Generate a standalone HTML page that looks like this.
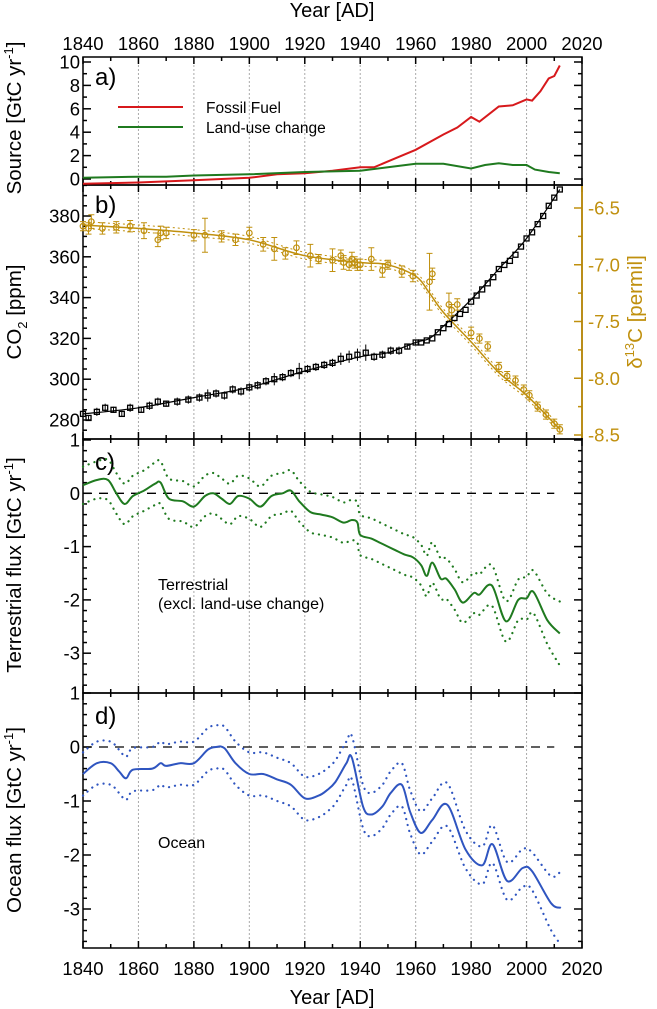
<!DOCTYPE html>
<html><head><meta charset="utf-8"><style>
html,body{margin:0;padding:0;background:#fff;}
svg{display:block;font-family:"Liberation Sans",sans-serif;}
</style></head><body>
<svg id="chart" width="657" height="1009" viewBox="0 0 657 1009" xmlns="http://www.w3.org/2000/svg"></svg>
<script>
// ---- data ----
const ffYears = [1840,1860,1880,1900,1910,1920,1930,1940,1945,1950,1960,1970,1975,1980,1983,1990,1995,2000,2002,2005,2008,2010,2012];
const ffValues = [-0.4,-0.3,-0.1,0.1,0.4,0.5,0.7,1.0,1.0,1.5,2.5,3.8,4.4,5.3,4.9,6.2,6.3,6.8,6.7,7.5,8.6,8.8,9.7];
const luYears = [1840,1860,1870,1880,1900,1920,1940,1950,1960,1970,1980,1985,1990,1995,2000,2003,2008,2012];
const luValues = [0.1,0.2,0.2,0.3,0.4,0.6,0.7,1.0,1.3,1.3,0.9,1.2,1.35,1.2,1.2,0.8,0.6,0.5];

const co2Years = [1840,1860,1880,1900,1920,1940,1950,1960,1965,1970,1980,1990,2000,2012];
const co2Values = [283,286,291,296,304,311,313,318,320,326,339,354,369,393];
const d13Years = [1840,1860,1880,1900,1920,1940,1950,1960,1965,1970,1980,1990,2000,2012];
const d13Values = [-6.65,-6.68,-6.72,-6.78,-6.92,-6.98,-7.0,-7.1,-7.25,-7.42,-7.68,-7.95,-8.15,-8.45];

const co2ObsYears = [1840,1842,1845,1848,1851,1854,1857,1861,1864,1867,1870,1874,1878,1882,1885,1888,1891,1894,1897,1900,1903,1906,1909,1912,1915,1918,1921,1924,1927,1930,1933,1936,1939,1942,1945,1948,1951,1954,1957,1960,1962,1964,1966,1968,1970,1972,1974,1976,1978,1980,1982,1984,1986,1988,1990,1992,1994,1996,1998,2000,2002,2004,2006,2008,2010,2012];
const co2ObsValues = [283,281,284,286,285,283,286,285,287,289,288,289,290,291,292,293,292,295,294,296,297,299,300,301,303,304,305,306,307,308,310,311,312,313,311,312,314,314,316,318,318,319,320,323,325,327,330,332,334,338,341,344,347,350,354,356,358,361,365,369,372,376,380,385,389,393];
const co2ObsErr = [1.5,1.5,2,2,1.5,1.5,2,1.5,2,2,1.5,2,2,2,3,2,2,2,2,2,2,2,3,2,2,4,2,2,2,2,3,3,3,4,2,2,2,2,1,1,0.5,0.5,0.5,0.5,0.5,0.5,0.5,0.5,0.5,0.5,0.5,0.5,0.5,0.5,0.5,0.5,0.5,0.5,0.5,0.5,0.5,0.5,0.5,0.5,0.5,0.5];

const d13ObsYears = [1840,1842,1843,1847,1852,1857,1862,1867,1868,1870,1880,1884,1890,1895,1900,1905,1909,1913,1917,1922,1925,1930,1933,1934,1936,1937,1938,1939,1940,1944,1948,1950,1955,1959,1965,1966,1972,1973,1975,1980,1983,1986,1990,1993,1996,1999,2001,2004,2007,2010,2012];
const d13ObsValues = [-6.66,-6.68,-6.62,-6.68,-6.67,-6.66,-6.7,-6.78,-6.72,-6.72,-6.74,-6.74,-6.75,-6.78,-6.72,-6.82,-6.86,-6.9,-6.85,-6.92,-6.95,-6.96,-6.92,-6.98,-7.0,-6.95,-6.98,-7.0,-7.0,-6.95,-7.05,-7.0,-7.06,-7.1,-7.15,-7.08,-7.35,-7.4,-7.35,-7.6,-7.65,-7.72,-7.9,-7.98,-8.02,-8.1,-8.15,-8.25,-8.32,-8.4,-8.45];
const d13ObsErr = [0.04,0.05,0.06,0.05,0.05,0.05,0.07,0.06,0.06,0.05,0.05,0.15,0.05,0.05,0.05,0.06,0.1,0.05,0.06,0.1,0.04,0.1,0.05,0.06,0.05,0.06,0.05,0.05,0.05,0.1,0.06,0.04,0.05,0.05,0.25,0.05,0.1,0.05,0.05,0.05,0.04,0.04,0.04,0.04,0.04,0.04,0.04,0.04,0.04,0.04,0.04];

const terYears = [1840,1845,1849,1852,1855,1858,1862,1866,1868,1871,1876,1880,1884,1887,1890,1893,1896,1900,1904,1908,1912,1915,1918,1922,1926,1930,1934,1937,1939,1940,1944,1948,1952,1956,1959,1962,1964,1966,1969,1971,1974,1977,1981,1983,1987.5,1992.5,1997,2000,2002.5,2007.5,2012];
const terValues = [0.15,0.25,0.25,0.0,-0.2,-0.05,0.05,0.18,0.2,-0.1,-0.15,-0.25,-0.05,0.0,-0.1,-0.2,-0.05,-0.1,-0.25,-0.05,0.0,0.05,-0.15,-0.35,-0.4,-0.45,-0.55,-0.5,-0.55,-0.78,-0.85,-0.95,-1.05,-1.15,-1.2,-1.35,-1.55,-1.3,-1.6,-1.6,-1.8,-2.05,-1.87,-1.9,-1.73,-2.4,-2.0,-1.97,-1.85,-2.38,-2.63];
const terErrUp = [0.35,0.35,0.38,0.38,0.38,0.38,0.38,0.4,0.4,0.38,0.38,0.38,0.38,0.38,0.38,0.38,0.38,0.38,0.38,0.38,0.38,0.38,0.38,0.38,0.38,0.38,0.38,0.38,0.38,0.38,0.38,0.38,0.38,0.38,0.38,0.38,0.38,0.38,0.38,0.38,0.38,0.38,0.38,0.38,0.38,0.38,0.38,0.4,0.4,0.5,0.6];
const terErrLo = [0.35,0.35,0.38,0.38,0.38,0.38,0.38,0.4,0.4,0.38,0.38,0.38,0.38,0.38,0.38,0.38,0.38,0.38,0.38,0.38,0.38,0.38,0.38,0.38,0.38,0.38,0.38,0.38,0.38,0.38,0.38,0.38,0.38,0.38,0.38,0.38,0.38,0.38,0.38,0.38,0.38,0.38,0.38,0.38,0.38,0.38,0.38,0.4,0.4,0.45,0.6];

const ocnYears = [1840,1845,1850,1853,1855.5,1858,1865,1868,1870,1875,1880,1885,1888,1891,1895,1900,1905,1910,1915,1920,1925,1928,1931,1935,1937,1941,1944,1948,1951,1955,1958,1961.8,1966,1971.4,1978,1984,1987.7,1993,1998.6,2002,2008.8,2012.4];
const ocnValues = [-0.5,-0.3,-0.3,-0.45,-0.58,-0.42,-0.4,-0.3,-0.35,-0.3,-0.3,-0.05,0.0,-0.02,-0.3,-0.5,-0.5,-0.6,-0.7,-0.95,-0.9,-0.8,-0.65,-0.3,-0.2,-1.1,-1.25,-1.1,-0.85,-0.7,-1.2,-1.59,-1.35,-1.07,-1.9,-2.19,-1.8,-2.48,-2.24,-2.3,-2.89,-2.98];
const ocnErr = [0.4,0.4,0.4,0.4,0.4,0.4,0.4,0.4,0.4,0.4,0.4,0.4,0.4,0.4,0.4,0.4,0.4,0.4,0.4,0.4,0.4,0.4,0.4,0.4,0.4,0.4,0.4,0.4,0.4,0.4,0.4,0.4,0.4,0.4,0.35,0.35,0.35,0.35,0.35,0.35,0.5,0.68];

const xTicks = [1840,1860,1880,1900,1920,1940,1960,1980,2000,2020];
const aTicks = [0,2,4,6,8,10];
const bTicks = [280,300,320,340,360,380];
const dTicks = [-6.5,-7.0,-7.5,-8.0,-8.5];
const cTicks = [1,0,-1,-2,-3];

// ---- layout ----
const SVGNS = "http://www.w3.org/2000/svg";
const svg = document.getElementById('chart');
const L = 83, R = 582;
const X = y => L + (y - 1840) * (R - L) / 180;
const pa = {top:57, bot:185, y:v => 179 - v*11.7};
const pb = {top:185, bot:439, y:v => 420 - (v-280)*2.04, y2:v => 208 - (v+6.5)*113.5};
const pc = {top:439, bot:693, y:v => 493.3 - v*53.3};
const pd = {top:693, bot:948, y:v => 747 - v*54};
const GOLD = "#c0900e";
const TF = 18.5;

function mk(tag, attrs, parent){
  const e = document.createElementNS(SVGNS, tag);
  for (const k in attrs) e.setAttribute(k, attrs[k]);
  (parent||svg).appendChild(e);
  return e;
}
function txt(s, attrs){ const t = mk('text', attrs); t.textContent = s; return t; }
function pathFrom(xs, ys){ return xs.map((v,i)=>(i?'L':'M')+X(v).toFixed(1)+','+ys[i].toFixed(1)).join(''); }
function smoothFrom(xs, ys){
  const p = xs.map((v,i)=>[X(v), ys[i]]);
  let d = 'M'+p[0][0].toFixed(1)+','+p[0][1].toFixed(1);
  for (let i=0;i<p.length-1;i++){
    const p0=p[Math.max(0,i-1)], p1=p[i], p2=p[i+1], p3=p[Math.min(p.length-1,i+2)];
    const c1=[p1[0]+(p2[0]-p0[0])/6, p1[1]+(p2[1]-p0[1])/6];
    const c2=[p2[0]-(p3[0]-p1[0])/6, p2[1]-(p3[1]-p1[1])/6];
    d += 'C'+c1.map(v=>v.toFixed(1)).join(',')+' '+c2.map(v=>v.toFixed(1)).join(',')+' '+p2.map(v=>v.toFixed(1)).join(',');
  }
  return d;
}

// gridlines
[pa,pb,pc,pd].forEach(p=>{
  for (let yr=1860; yr<=2000; yr+=20){
    const g = mk('line',{x1:X(yr),x2:X(yr),y1:p.top,y2:p.bot,stroke:'#aaa','stroke-width':1,'stroke-dasharray':'2,2'});
    
    
  }
});
[pa,pb,pc,pd].forEach(p=>{
  for (let yr=1840; yr<=2020; yr+=10){
    const len = yr%20===0 ? 7 : 4;
    [p.top,p.bot].forEach((yy,j)=>{
      const t = mk('line',{x1:X(yr),x2:X(yr),y1:yy,y2:j===0?yy+len:yy-len,stroke:'#000','stroke-width':1.5});
      
      
    });
  }
});
function yTicks(p, vals, fy, minorStep, lo, hi, rightToo){
  for (let v=lo; v<=hi+1e-9; v+=minorStep){
    const yy = fy(v); if (yy<p.top-0.5||yy>p.bot+0.5) continue;
    const major = vals.some(m=>Math.abs(m-v)<1e-6);
    const len = major?8:4;
    const t = mk('line',{x1:L,x2:L+len,y1:yy,y2:yy,stroke:'#000','stroke-width':1.5});
    
    
    if (rightToo){
      const t2 = mk('line',{x1:R,x2:R-len,y1:yy,y2:yy,stroke:'#000','stroke-width':1.5});
      
      
    }
  }
  vals.forEach(v=>{
    const lab = txt(String(v),{x:L-3,y:fy(v)+6.5,'text-anchor':'end','font-size':TF});
    
    
  });
}
yTicks(pa, aTicks, pa.y, 1, 0, 10, true);
yTicks(pb, bTicks, pb.y, 5, 270, 395, false);
yTicks(pc, cTicks, pc.y, 0.2, -3.8, 1, true);
yTicks(pd, cTicks, pd.y, 0.2, -3.8, 1, true);
for (let v=-6.25; v>=-8.76; v-=0.25){
  const yy = pb.y2(v); if (yy<pb.top||yy>pb.bot) continue;
  const t = mk('line',{x1:R,x2:R-(Math.abs((v*2)%1)<1e-6?8:4),y1:yy,y2:yy,stroke:GOLD,'stroke-width':1.5});
  
  
}
dTicks.forEach(v=>{
  const lab = txt(v.toFixed(1),{x:R+6,y:pb.y2(v)+6.5,'font-size':TF,fill:GOLD});
  
  
});
[pa,pb,pc,pd].forEach(p=>{
  const f = mk('rect',{x:L,y:p.top,width:R-L,height:p.bot-p.top,fill:'none',stroke:'#000','stroke-width':1.5});
  
  
});
const gb = mk('line',{x1:R,x2:R,y1:pb.top+1,y2:pb.bot-1,stroke:GOLD,'stroke-width':1.8});



xTicks.forEach(yr=>{
  const t1 = txt(String(yr),{x:X(yr),y:50,'text-anchor':'middle','font-size':TF});
  
  
  const t2 = txt(String(yr),{x:X(yr),y:975,'text-anchor':'middle','font-size':TF});
  
  
});
</script>
<script>
(function(){
  const t1 = txt('Year [AD]',{x:332,y:17,'text-anchor':'middle','font-size':20});
  
  
  const t2 = txt('Year [AD]',{x:332,y:1004,'text-anchor':'middle','font-size':20});
  
  

  function ytitle(html, cy, name, x){
    const t = mk('text',{x:0,y:0,'text-anchor':'middle','font-size':20.5,fill:'#000',transform:`translate(${x},${cy}) rotate(-90)`});
    t.innerHTML = html;
    
    
  }
  ytitle('Source [GtC yr<tspan dy="-8" font-size="13">-1</tspan><tspan dy="8">]</tspan>',118,'source-y-title',21);
  ytitle('CO<tspan dy="6" font-size="13">2</tspan><tspan dy="-6">  [ppm]</tspan>',312,'co2-y-title',21);
  ytitle('Terrestrial flux [GtC yr<tspan dy="-8" font-size="13">-1</tspan><tspan dy="8">]</tspan>',565,'terrestrial-y-title',21);
  ytitle('Ocean flux [GtC yr<tspan dy="-8" font-size="13">-1</tspan><tspan dy="8">]</tspan>',820,'ocean-y-title',21);
  const dt = mk('text',{x:0,y:0,'text-anchor':'middle','font-size':20.5,fill:GOLD,transform:`translate(${642},${312}) rotate(-90)`});
  dt.innerHTML = 'δ<tspan dy="-8" font-size="13">13</tspan><tspan dy="8">C  [permil]</tspan>';
  
  

  [['a)',pa.top+28],['b)',pb.top+28],['c)',pc.top+31],['d)',pd.top+31]].forEach(([s,y])=>{
    const t = txt(s,{x:95,y:y,'font-size':24});
    
    
  });

  const l1 = mk('line',{x1:118,x2:183,y1:107,y2:107,stroke:'#d7191c','stroke-width':2});
  
  
  const lt1 = txt('Fossil Fuel',{x:206,y:113,'font-size':15.5});
  
  
  const l2 = mk('line',{x1:118,x2:183,y1:127,y2:127,stroke:'#1f7a1f','stroke-width':2});
  
  
  const lt2 = txt('Land-use change',{x:206,y:133,'font-size':15.5});
  
  

  const tt1 = txt('Terrestrial',{x:158,y:590,'font-size':16});
  
  
  const tt2 = txt('(excl. land-use change)',{x:158,y:609,'font-size':16});
  
  
  const to = txt('Ocean',{x:158,y:848,'font-size':16});
  
  

  [[pc,'terrestrial-zero-line'],[pd,'ocean-zero-line']].forEach(([p,n])=>{
    const z = mk('line',{x1:X(1840),x2:X(2010),y1:p.y(0),y2:p.y(0),stroke:'#000','stroke-width':1.3,'stroke-dasharray':'9,7'});
    
    
  });

  const ff = mk('path',{d:pathFrom(ffYears, ffValues.map(pa.y)),fill:'none',stroke:'#d7191c','stroke-width':2});
  
  
  const lu = mk('path',{d:pathFrom(luYears, luValues.map(pa.y)),fill:'none',stroke:'#1f7a1f','stroke-width':2});
  
  

  const co2Fit = mk('path',{d:smoothFrom(co2Years, co2Values.map(pb.y)),fill:'none',stroke:'#000','stroke-width':1.2});
  
  
  const d13Fit = mk('path',{d:smoothFrom(d13Years, d13Values.map(pb.y2)),fill:'none',stroke:GOLD,'stroke-width':1.5});
  
  
  [-0.03,0.03].forEach(o=>{
    const b = mk('path',{d:smoothFrom(d13Years, d13Values.map(v=>pb.y2(v+o))),fill:'none',stroke:GOLD,'stroke-width':1,'stroke-dasharray':'2,3'});
    
    
  });
  co2ObsYears.forEach((yr,i)=>{
    const cx = X(yr), cy = pb.y(co2ObsValues[i]), e = co2ObsErr[i]*2.04;
    if (e>1.5){
      const eb = mk('line',{x1:cx,x2:cx,y1:cy-e,y2:cy+e,stroke:'#000','stroke-width':1});
      
      
    }
    const m = mk('rect',{x:cx-2.5,y:cy-2.5,width:5,height:5,fill:'none',stroke:'#000','stroke-width':1.3});
    
    
  });
  d13ObsYears.forEach((yr,i)=>{
    const cx = X(yr), cy = pb.y2(d13ObsValues[i]), e = d13ObsErr[i]*113.5;
    const eb = mk('path',{d:`M${cx},${cy-e}V${cy+e}M${cx-3},${cy-e}h6M${cx-3},${cy+e}h6`,stroke:GOLD,'stroke-width':1,fill:'none'});
    
    
    const m = mk('circle',{cx:cx,cy:cy,r:2.8,fill:'none',stroke:GOLD,'stroke-width':1.2});
    
    
  });

  const tu = mk('path',{d:smoothFrom(terYears, terValues.map((v,i)=>pc.y(v+terErrUp[i]))),fill:'none',stroke:'#1f7a1f','stroke-width':2.2,'stroke-dasharray':'0.1,6','stroke-linecap':'round'});
  
  
  const tl = mk('path',{d:smoothFrom(terYears, terValues.map((v,i)=>pc.y(v-terErrLo[i]))),fill:'none',stroke:'#1f7a1f','stroke-width':2.2,'stroke-dasharray':'0.1,6','stroke-linecap':'round'});
  
  
  const tm = mk('path',{d:smoothFrom(terYears, terValues.map(pc.y)),fill:'none',stroke:'#1f7a1f','stroke-width':2,'stroke-linejoin':'round'});
  
  

  const ou = mk('path',{d:smoothFrom(ocnYears, ocnValues.map((v,i)=>pd.y(v+ocnErr[i]))),fill:'none',stroke:'#2f55c0','stroke-width':2.2,'stroke-dasharray':'0.1,6','stroke-linecap':'round'});
  
  
  const ol = mk('path',{d:smoothFrom(ocnYears, ocnValues.map((v,i)=>pd.y(v-ocnErr[i]))),fill:'none',stroke:'#2f55c0','stroke-width':2.2,'stroke-dasharray':'0.1,6','stroke-linecap':'round'});
  
  
  const om = mk('path',{d:smoothFrom(ocnYears, ocnValues.map(pd.y)),fill:'none',stroke:'#2f55c0','stroke-width':2,'stroke-linejoin':'round'});
  
  
})();
</script>
</body></html>
